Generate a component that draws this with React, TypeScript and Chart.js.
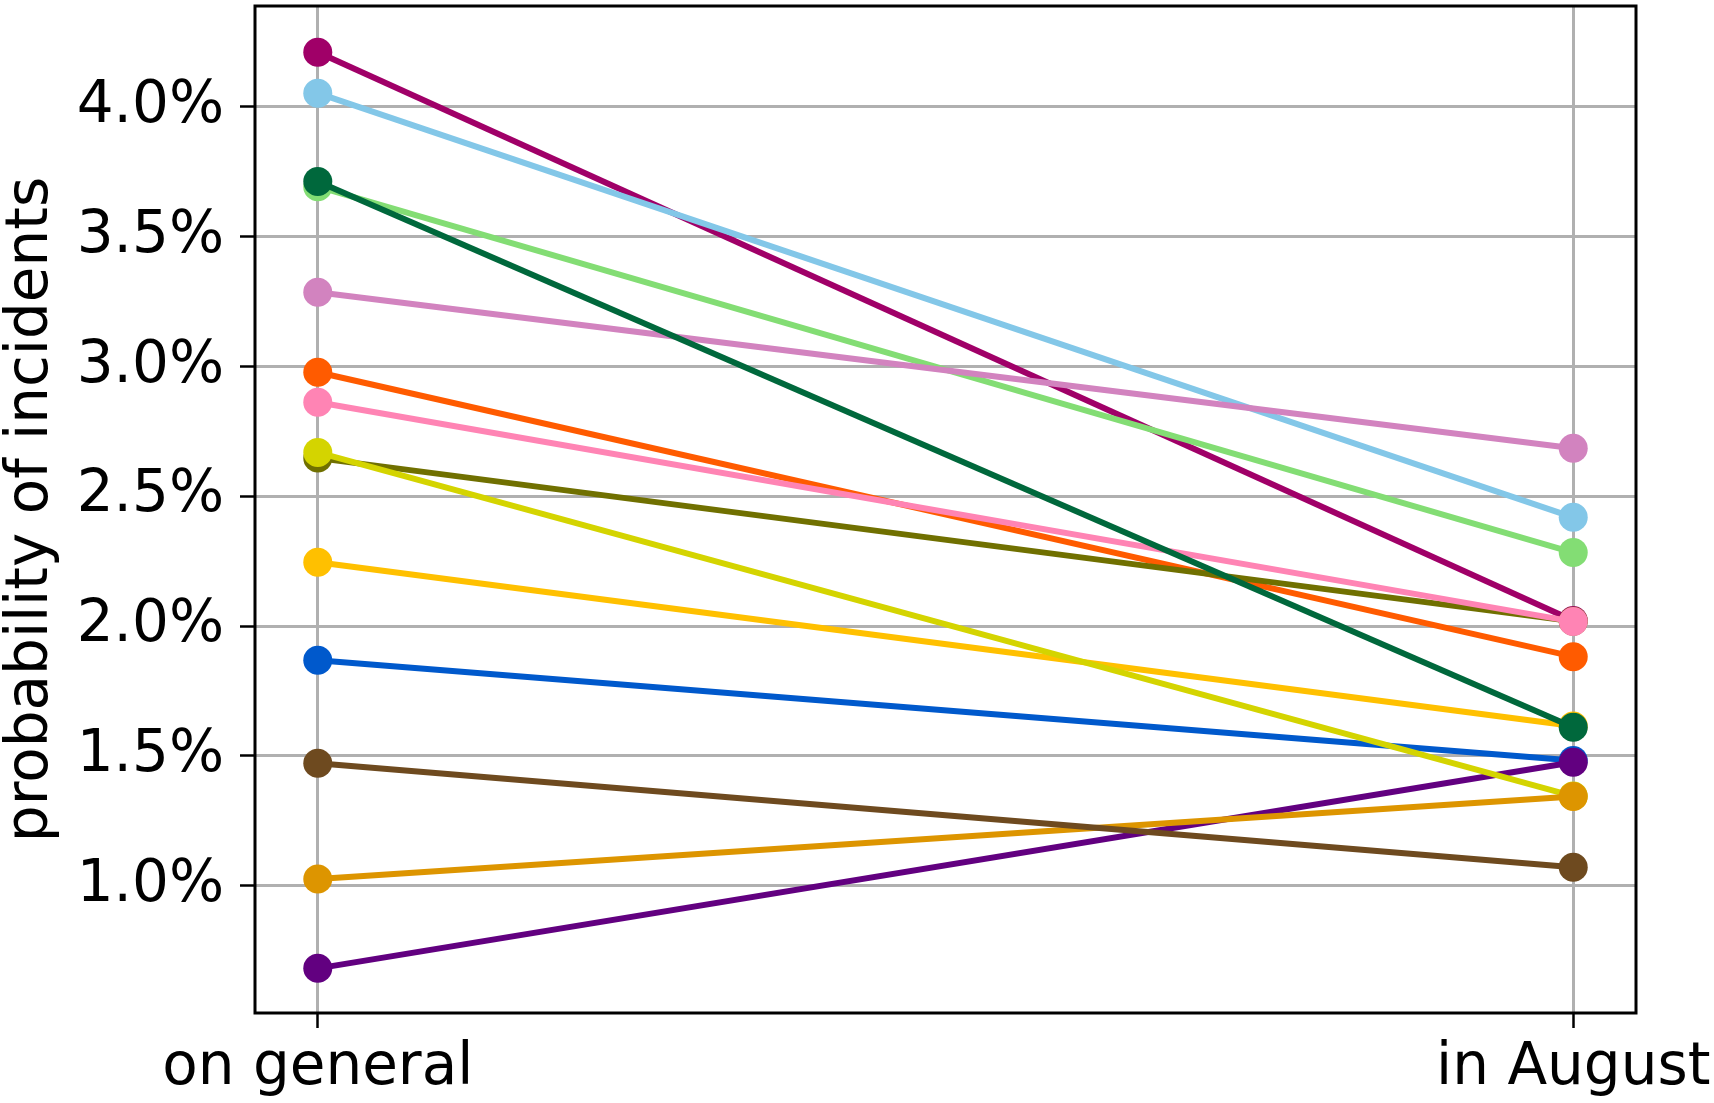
import { useEffect, useRef } from 'react';
import { Chart, registerables } from 'chart.js';

Chart.register(...registerables);

// x categories
const categories = ['on general', 'in August'];

// series listed bottom-most (drawn first) to top-most (drawn last)
const seriesColors = [
  '#a00068', // magenta
  '#83c7e8', // light blue
  '#83dd74', // light green
  '#d283bf', // orchid
  '#ff5b00', // orange-red
  '#707000', // olive
  '#ff84b4', // pink
  '#ffc000', // amber
  '#00683c', // dark green
  '#0059cc', // blue
  '#620080', // purple
  '#d4d400', // yellow-green
  '#dd9500', // gold
  '#6e4a1f', // brown
];

const onGeneral = [4.211, 4.053, 3.693, 3.286, 2.978, 2.647, 2.862, 2.246, 3.713, 1.868, 0.681, 2.669, 1.025, 1.471];
const inAugust = [2.021, 2.419, 2.283, 2.685, 1.882, 2.018, 2.017, 1.615, 1.61, 1.482, 1.475, 1.345, 1.343, 1.071];

const yTicks = [1.0, 1.5, 2.0, 2.5, 3.0, 3.5, 4.0];
const yMin = 0.509;
const yMax = 4.389;

const FONT = 'DejaVu Sans';

const frame = {
  id: 'frame',
  afterDraw(chart: any) {
    const { ctx, chartArea } = chart;
    ctx.save();
    ctx.strokeStyle = '#000';
    ctx.lineWidth = 3;
    ctx.strokeRect(chartArea.left, chartArea.top, chartArea.right - chartArea.left, chartArea.bottom - chartArea.top);
    ctx.restore();
  },
};

export default function App() {
  const ref = useRef<HTMLCanvasElement>(null);
  useEffect(() => {
    document.body.style.margin = '0';
    const datasets = seriesColors
      .map((c, i) => ({
        data: [
          { x: 0, y: onGeneral[i] },
          { x: 1, y: inAugust[i] },
        ],
        borderColor: c,
        backgroundColor: c,
        borderWidth: 6,
        pointRadius: 14.5,
        pointHoverRadius: 14.5,
        pointBorderWidth: 0,
        pointBackgroundColor: c,
        tension: 0,
      }))
      .reverse();
    const grid = {
      color: '#b0b0b0',
      lineWidth: 3,
      tickColor: '#000',
      tickLength: 15,
      tickWidth: 2.5,
    };
    const chart = new Chart(ref.current!, {
      type: 'line',
      data: { datasets },
      plugins: [frame],
      options: {
        animation: false,
        responsive: false,
        devicePixelRatio: 1,
        layout: { autoPadding: false, padding: { left: 0, right: 78, top: 6, bottom: 0 } },
        plugins: { legend: { display: false }, tooltip: { enabled: false } },
        scales: {
          x: {
            type: 'linear',
            min: -0.05,
            max: 1.05,
            afterBuildTicks: (s: any) => {
              s.ticks = categories.map((_, i) => ({ value: i }));
            },
            ticks: {
              callback: (v: any) => categories[Number(v)] ?? '',
              maxRotation: 0,
              autoSkip: false,
              color: '#000',
              padding: 6,
              font: { family: FONT, size: 58 },
            },
            grid,
            border: { display: false },
            afterFit: (s: any) => {
              s.height = 90;
              s.paddingLeft = 0;
              s.paddingRight = 0;
              s.paddingTop = 0;
              s.paddingBottom = 0;
            },
          },
          y: {
            type: 'linear',
            min: yMin,
            max: yMax,
            afterBuildTicks: (s: any) => {
              s.ticks = yTicks.map((v) => ({ value: v }));
            },
            ticks: {
              callback: (v: any) => `${Number(v).toFixed(1)}%`,
              color: '#000',
              padding: 16,
              font: { family: FONT, size: 58 },
            },
            grid,
            border: { display: false },
            title: {
              display: true,
              text: 'probability of incidents',
              color: '#000',
              padding: 0,
              font: { family: FONT, size: 58, lineHeight: 1.1 },
            },
            afterFit: (s: any) => {
              s.width = 255;
              s.paddingLeft = 0;
              s.paddingRight = 0;
              s.paddingTop = 0;
              s.paddingBottom = 0;
            },
          },
        },
      },
    } as any);
    return () => chart.destroy();
  }, []);
  return (
    <canvas
      ref={ref}
      width={1714}
      height={1103}
      style={{ display: 'block', width: '1714px', height: '1103px' }}
    />
  );
}
